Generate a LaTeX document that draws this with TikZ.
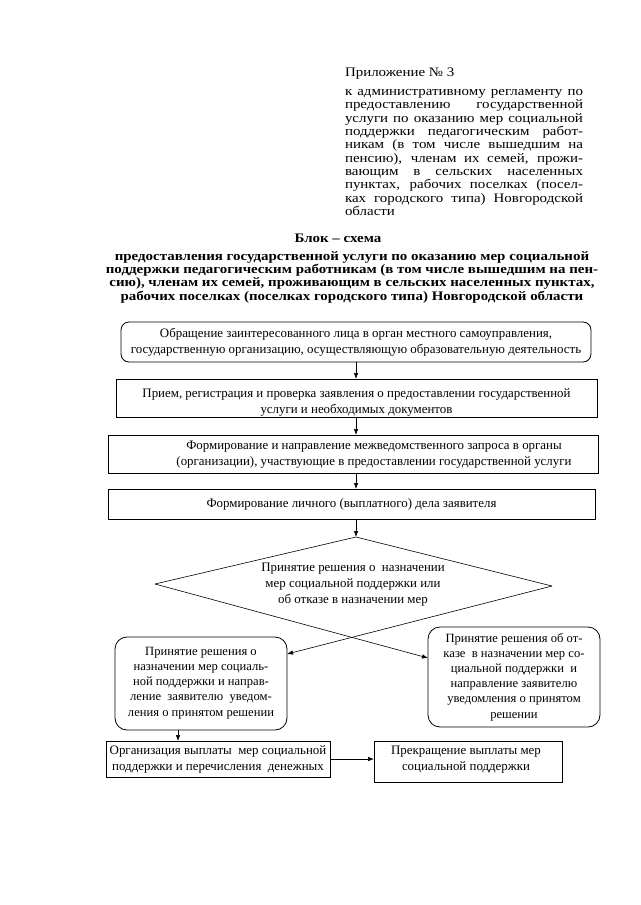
\documentclass[tikz,border=0pt]{standalone}
\usepackage{fontspec}
\setmainfont{Liberation Serif}
\newfontfamily\hdrfam[FakeStretch=1.15]{Liberation Serif}
\usetikzlibrary{arrows.meta}
\newcommand{\boxfnt}{\fontsize{12.9}{16}\selectfont}
\newcommand{\rbfnt}{\fontsize{12.6}{15.2}\selectfont}
\newcommand{\hdrfnt}{\hdrfam\fontsize{13}{13.3}\selectfont}
\newcommand{\ttlfnt}{\hdrfam\bfseries\fontsize{13}{13.3}\selectfont}
\begin{document}
\begin{tikzpicture}[x=1pt,y=-1pt,
  every node/.style={inner sep=0pt, outer sep=0pt},
  frame/.style={draw, line width=0.8pt},
  rectbox/.style={frame},
  rndbox/.style={frame, rounded corners=12pt},
  txt/.style={font=\boxfnt, align=center},
  rtxt/.style={font=\rbfnt, align=center},
  arr/.style={-{Latex[length=6pt,width=4.5pt]}, line width=0.6pt},
]
\useasboundingbox (0,0) rectangle (640,905);

% header
\node[anchor=west, font=\hdrfnt] (app) at (345,74) {Приложение № 3};
\node[anchor=west, font=\hdrfnt, text width=238pt, align=justify] (hdr) at (345,152.5) {%
к административному регламенту по\linebreak
предоставлению государственной\linebreak
услуги по оказанию мер социальной\linebreak
поддержки педагогическим работ-\linebreak
никам (в том числе вышедшим на\linebreak
пенсию), членам их семей, прожи-\linebreak
вающим в сельских населенных\linebreak
пунктах, рабочих поселках (посел-\linebreak
ках городского типа) Новгородской\linebreak
области};

% title
\node[font=\ttlfnt] (blk) at (338,238) {Блок – схема};
\node[font=\ttlfnt, align=center] (ttl) at (352,277) {%
предоставления государственной услуги по оказанию мер социальной\\
поддержки педагогическим работникам (в том числе вышедшим на пен-\\
сию), членам их семей, проживающим в сельских населенных пунктах,\\
рабочих поселках (поселках городского типа) Новгородской области};

% boxes
\node[frame, rounded corners=8pt, minimum width=470pt, minimum height=40pt, txt] (b1) at (356,342) {%
Обращение заинтересованного лица в орган местного самоуправления,\\
государственную организацию, осуществляющую образовательную деятельность};
\node[rectbox, minimum width=481pt, minimum height=38pt] (b2) at (356.5,398) {};
\node[txt] (t2) at (356.5,402) {Прием, регистрация и проверка заявления о предоставлении государственной\\
услуги и необходимых документов};
\node[rectbox, minimum width=490pt, minimum height=38pt] (b3) at (353,454) {};
\node[txt] (t3) at (374,455) {Формирование и направление межведомственного запроса в органы\\
(организации), участвующие в предоставлении государственной услуги};
\node[rectbox, minimum width=487pt, minimum height=30pt, txt] (b4) at (351.5,504)
  {Формирование личного (выплатного) дела заявителя};

% diamond
\coordinate (dt) at (356,537);
\coordinate (dl) at (155,584);
\coordinate (dr) at (552,586);
\draw[line width=0.6pt] (dl) -- (dt) -- (dr);
\node[txt] (dtx) at (353,585) {Принятие решения о\ \ назначении\\
мер социальной поддержки или\\
об отказе в назначении мер};

% decision boxes
\node[rndbox, minimum width=172pt, minimum height=93pt] (lb) at (201,683.5) {};
\node[rtxt] (ltx) at (201,683) {Принятие решения о\\
назначении мер социаль-\\
ной поддержки и направ-\\
ление\ \ заявителю\ \ уведом-\\
ления о принятом решении};
\node[rndbox, minimum width=172pt, minimum height=100pt] (rb) at (514,677) {};
\node[rtxt] (rtx) at (514,677) {Принятие решения об от-\\
казе\ \ в назначении мер со-\\
циальной поддержки\ \ и\\
направление заявителю\\
уведомления о принятом\\
решении};

% bottom boxes
\node[rectbox, minimum width=224pt, minimum height=36pt, txt] (bl) at (218,759) {%
Организация выплаты\ \ мер социальной\\
поддержки и перечисления\ \ денежных};
\node[rectbox, minimum width=188pt, minimum height=41pt] (br) at (468,761.5) {};
\node[txt] (brt) at (466,759.5) {Прекращение выплаты мер\\
социальной поддержки};

% connectors
\draw[arr] (b1.south -| dt) -- (b2.north -| dt);
\draw[arr] (b2.south -| dt) -- (b3.north -| dt);
\draw[arr] (b3.south -| dt) -- (b4.north -| dt);
\draw[arr] (b4.south -| dt) -- (dt);
\coordinate (rin) at (428,658);
\coordinate (lin) at (287,654);
\draw[arr] (dl) -- (rin);
\draw[arr] (dr) -- (lin);
\draw[arr] ([xshift=-23pt]lb.south) -- ([xshift=-23pt]lb.south |- bl.north);
\draw[arr] (bl.east) -- (bl.east -| br.west);
\end{tikzpicture}
\end{document}
